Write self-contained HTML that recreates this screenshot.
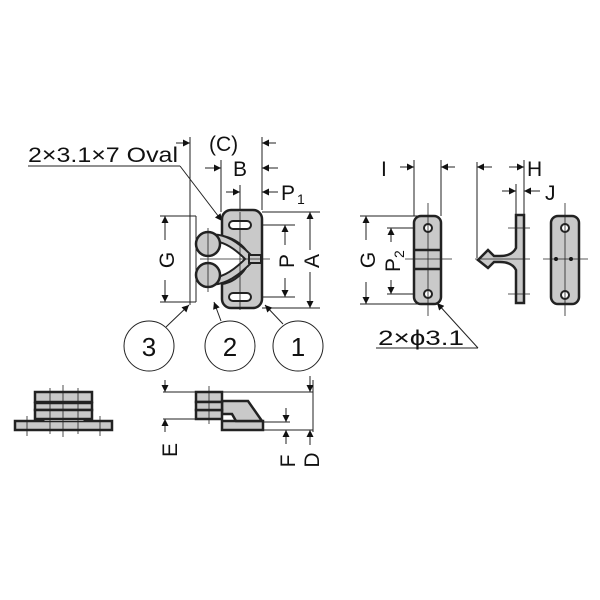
<!DOCTYPE html>
<html><head><meta charset="utf-8"><style>
html,body{margin:0;padding:0;background:#fff;}
svg{display:block;}
text{font-family:"Liberation Sans",sans-serif;fill:#111;}
</style></head><body>
<svg width="600" height="600" viewBox="0 0 600 600" xmlns="http://www.w3.org/2000/svg">
<defs>
<marker id="a" viewBox="0 0 10 10" refX="10" refY="5" markerWidth="11" markerHeight="7" orient="auto-start-reverse" markerUnits="userSpaceOnUse"><path d="M0,0L10,5L0,10z" fill="#111"/></marker>
</defs>
<g stroke="#222" stroke-width="1" fill="none">
<line x1="190" y1="137" x2="190" y2="305"/>
<line x1="262" y1="137" x2="262" y2="210"/>
<line x1="221" y1="160" x2="221" y2="212"/>
<line x1="240" y1="185" x2="240" y2="212"/>
<line x1="262" y1="212" x2="320" y2="212"/>
<line x1="262" y1="308" x2="320" y2="308"/>
<line x1="250" y1="225" x2="295" y2="225"/>
<line x1="250" y1="297" x2="295" y2="297"/>
<line x1="160" y1="216" x2="196" y2="216"/>
<line x1="160" y1="302" x2="196" y2="302"/>
<line x1="196" y1="216" x2="196" y2="302"/>
<line x1="176" y1="143" x2="190" y2="143" marker-end="url(#a)"/>
<line x1="276" y1="143" x2="262" y2="143" marker-end="url(#a)"/>
<line x1="205" y1="168" x2="221" y2="168" marker-end="url(#a)"/>
<line x1="278" y1="168" x2="262" y2="168" marker-end="url(#a)"/>
<line x1="226" y1="192" x2="240" y2="192" marker-end="url(#a)"/>
<line x1="278" y1="192" x2="262" y2="192" marker-end="url(#a)"/>
<line x1="310" y1="250" x2="310" y2="212" marker-end="url(#a)"/>
<line x1="310" y1="272" x2="310" y2="308" marker-end="url(#a)"/>
<line x1="285" y1="245" x2="285" y2="225" marker-end="url(#a)"/>
<line x1="285" y1="278" x2="285" y2="297" marker-end="url(#a)"/>
<line x1="165" y1="240" x2="165" y2="216" marker-end="url(#a)"/>
<line x1="165" y1="280" x2="165" y2="302" marker-end="url(#a)"/>
<line x1="28" y1="166" x2="180" y2="166"/>
<line x1="180" y1="166" x2="222" y2="221" marker-end="url(#a)"/>
</g>
<g stroke="#222" stroke-width="2.5" fill="#c9c9c9">
<rect x="222" y="210" width="40" height="98" rx="9"/>
</g>
<path d="M220.5,236 Q236,238 246,250 L248,268 Q236,282 220.5,284 Z" fill="#fff"/>
<g stroke="#222" stroke-width="2" fill="none">
<path d="M222,236 Q236,238 246,250"/>
<path d="M222,284 Q236,282 246,268"/>
</g>
<path d="M214,238 Q230,238 250,259 Q230,280 214,281" fill="none" stroke="#222" stroke-width="9"/>
<path d="M214,238 Q230,238 250,259 Q230,280 214,281" fill="none" stroke="#c9c9c9" stroke-width="5"/>
<rect x="249" y="255" width="12" height="8" fill="#c9c9c9" stroke="#222" stroke-width="2"/>
<g stroke="#222" stroke-width="2.5" fill="#c9c9c9">
<circle cx="208" cy="244" r="12"/>
<circle cx="208" cy="275" r="12"/>
</g>
<g stroke="#222" stroke-width="2" fill="#fff">
<rect x="229" y="221" width="22" height="8" rx="4"/>
<rect x="229" y="293" width="22" height="8" rx="4"/>
</g>
<g stroke="#222" stroke-width="0.8">
<line x1="200" y1="259" x2="270" y2="259"/>
<line x1="208" y1="228" x2="208" y2="292"/>
<line x1="240" y1="212" x2="240" y2="310"/>
</g>
<text x="28" y="162" font-size="21" textLength="150" lengthAdjust="spacingAndGlyphs">2×3.1×7 Oval</text>
<text x="209" y="151" font-size="21">(C)</text>
<text x="233" y="176" font-size="21">B</text>
<text x="281" y="200" font-size="21">P</text><text x="297" y="204" font-size="14">1</text>
<text font-size="21" transform="translate(319,261) rotate(-90)" text-anchor="middle">A</text>
<text font-size="21" transform="translate(294,261) rotate(-90)" text-anchor="middle">P</text>
<text font-size="21" transform="translate(174,260) rotate(-90)" text-anchor="middle">G</text>
<g stroke="#222" stroke-width="1" fill="#fff">
<circle cx="149" cy="346" r="25"/>
<circle cx="230" cy="346" r="25"/>
<circle cx="298" cy="346" r="25"/>
</g>
<g stroke="#222" stroke-width="1">
<line x1="166" y1="327" x2="189" y2="305" marker-end="url(#a)"/>
<line x1="221" y1="321" x2="214" y2="302" marker-end="url(#a)"/>
<line x1="283" y1="324" x2="265" y2="305" marker-end="url(#a)"/>
</g>
<text x="149" y="356" font-size="26" text-anchor="middle">3</text>
<text x="230" y="356" font-size="26" text-anchor="middle">2</text>
<text x="298" y="356" font-size="26" text-anchor="middle">1</text>
<g stroke="#222" stroke-width="1" fill="none">
<line x1="414" y1="160" x2="414" y2="216"/>
<line x1="441" y1="160" x2="441" y2="216"/>
<line x1="400" y1="167" x2="414" y2="167" marker-end="url(#a)"/>
<line x1="455" y1="167" x2="441" y2="167" marker-end="url(#a)"/>
<line x1="360" y1="216" x2="420" y2="216"/>
<line x1="360" y1="304" x2="420" y2="304"/>
<line x1="387" y1="228" x2="425" y2="228"/>
<line x1="387" y1="294" x2="425" y2="294"/>
<line x1="366" y1="240" x2="366" y2="216" marker-end="url(#a)"/>
<line x1="366" y1="282" x2="366" y2="304" marker-end="url(#a)"/>
<line x1="391" y1="242" x2="391" y2="228" marker-end="url(#a)"/>
<line x1="391" y1="280" x2="391" y2="294" marker-end="url(#a)"/>
<line x1="477" y1="162" x2="477" y2="258"/>
<line x1="524" y1="160" x2="524" y2="215"/>
<line x1="516" y1="184" x2="516" y2="215"/>
<line x1="492" y1="167" x2="477" y2="167" marker-end="url(#a)"/>
<line x1="509" y1="167" x2="524" y2="167" marker-end="url(#a)"/>
<line x1="502" y1="191" x2="516" y2="191" marker-end="url(#a)"/>
<line x1="540" y1="191" x2="524" y2="191" marker-end="url(#a)"/>
<line x1="376" y1="348" x2="478" y2="348"/>
<line x1="478" y1="348" x2="437" y2="303" marker-end="url(#a)"/>
</g>
<g stroke="#222" stroke-width="2.5" fill="#c9c9c9">
<rect x="414" y="216" width="27" height="88" rx="7"/>
<path d="M516,215 H524 V303 H516 V270 Q512,262 500,262 H494 L488,268 L478,260 L488,250 L494,256 H500 Q512,256 516,248 Z"/>
<rect x="551" y="216" width="28" height="88" rx="7"/>
</g>
<g stroke="#222" stroke-width="2" fill="#fff">
<circle cx="428" cy="228" r="4"/><circle cx="428" cy="294" r="4"/>
<circle cx="565" cy="228" r="4"/><circle cx="565" cy="295" r="4"/>
</g>
<g stroke="#222" stroke-width="2.5"><line x1="414" y1="250" x2="441" y2="250"/><line x1="414" y1="269" x2="441" y2="269"/></g>
<circle cx="556" cy="259" r="2" fill="#111"/><circle cx="571" cy="259" r="2" fill="#111"/>
<g stroke="#222" stroke-width="0.8">
<line x1="428" y1="203" x2="428" y2="316"/><line x1="405" y1="259" x2="452" y2="259"/>
<line x1="475" y1="259" x2="530" y2="259"/>
<line x1="508" y1="228" x2="530" y2="228"/><line x1="508" y1="294" x2="530" y2="294"/>
<line x1="565" y1="203" x2="565" y2="316"/><line x1="543" y1="259" x2="588" y2="259"/>
</g>
<text x="381" y="176" font-size="21">I</text>
<text x="527" y="176" font-size="21">H</text>
<text x="545" y="200" font-size="21">J</text>
<text font-size="21" transform="translate(375,260) rotate(-90)" text-anchor="middle">G</text>
<text font-size="21" transform="translate(400,272) rotate(-90)">P<tspan font-size="14" dy="4">2</tspan></text>
<text x="378" y="345" font-size="21" textLength="86" lengthAdjust="spacingAndGlyphs">2×ϕ3.1</text>
<g stroke="#222" stroke-width="2.5" fill="#c9c9c9">
<rect x="15" y="421" width="97" height="9"/>
<path d="M42,421 L48,416 H80 L86,421"/>
<rect x="35" y="392" width="57" height="10"/>
<rect x="35" y="403" width="57" height="7"/>
<rect x="35" y="410" width="57" height="9"/>
</g>
<g stroke="#222" stroke-width="0.8">
<line x1="63" y1="385" x2="63" y2="437"/>
<line x1="50" y1="388" x2="50" y2="434"/><line x1="78" y1="388" x2="78" y2="434"/>
<line x1="27" y1="416" x2="27" y2="436"/><line x1="100" y1="416" x2="100" y2="436"/>
</g>
<g stroke="#222" stroke-width="1" fill="none">
<line x1="163" y1="392" x2="313" y2="392"/>
<line x1="163" y1="419" x2="200" y2="419"/>
<line x1="262" y1="422" x2="290" y2="422"/>
<line x1="262" y1="430" x2="313" y2="430"/>
<line x1="313" y1="380" x2="313" y2="432"/>
<line x1="165" y1="380" x2="165" y2="392" marker-end="url(#a)"/>
<line x1="165" y1="432" x2="165" y2="419" marker-end="url(#a)"/>
<line x1="310" y1="376" x2="310" y2="392" marker-end="url(#a)"/>
<line x1="310" y1="445" x2="310" y2="430" marker-end="url(#a)"/>
<line x1="286" y1="408" x2="286" y2="422" marker-end="url(#a)"/>
<line x1="286" y1="444" x2="286" y2="430" marker-end="url(#a)"/>
</g>
<g stroke="#222" stroke-width="2.5" fill="#c9c9c9">
<rect x="222" y="421" width="41" height="9"/>
<path d="M222,401 H248 L262,421 H236 L232,414 H222 Z"/>
<rect x="196" y="392" width="26" height="10"/>
<rect x="196" y="410" width="26" height="9"/>
<rect x="196" y="402" width="26" height="8"/>
</g>
<g stroke="#222" stroke-width="0.8"><line x1="209" y1="386" x2="209" y2="424"/></g>
<text font-size="21" transform="translate(177,450) rotate(-90)" text-anchor="middle">E</text>
<text font-size="21" transform="translate(295,461) rotate(-90)" text-anchor="middle">F</text>
<text font-size="21" transform="translate(319,460) rotate(-90)" text-anchor="middle">D</text>
</svg>
</body></html>
